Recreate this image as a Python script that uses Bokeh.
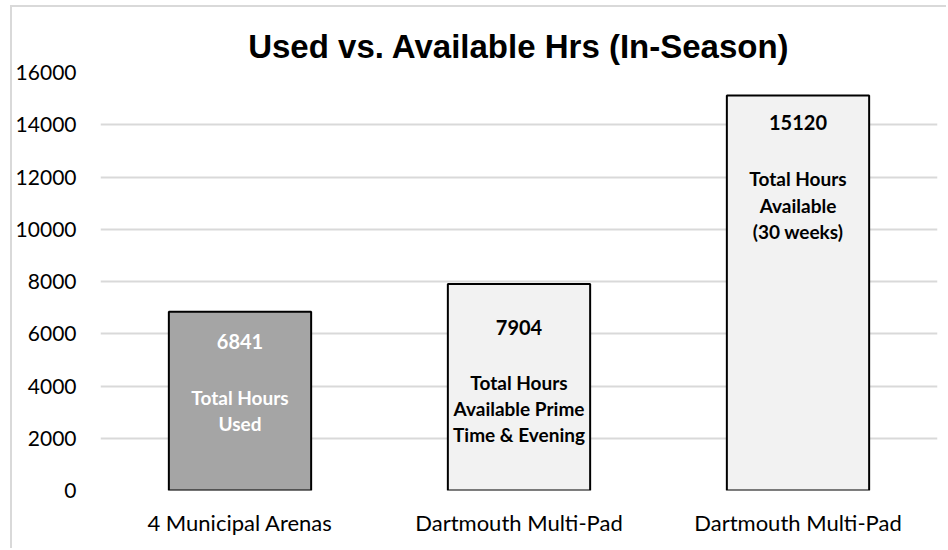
from bokeh.plotting import figure
from bokeh.models import Range1d, FixedTicker, ColumnDataSource
from bokeh.core.properties import value
from bokeh.embed import file_html
from bokeh.resources import INLINE

# ---- data ----
categories = ["4 Municipal Arenas", "Dartmouth Multi-Pad", "Dartmouth Multi-Pad"]
hours = [6841, 7904, 15120]
notes = ["Total Hours\nUsed", "Total Hours\nAvailable Prime\nTime & Evening", "Total Hours\nAvailable\n(30 weeks)"]
y_ticks = [0, 2000, 4000, 6000, 8000, 10000, 12000, 14000, 16000]
title_text = "Used vs. Available Hrs (In-Season)"

# ---- style ----
fills = ["#a5a5a5", "#f2f2f2", "#f2f2f2"]
label_colors = ["#ffffff", "#000000", "#000000"]
value_offsets = [30, 43, 27]     # px below bar top
note_offsets = [74, 87, 72]      # px below bar top (top of note block)

idx = list(range(len(categories)))
src = ColumnDataSource(dict(
    x=idx, top=hours, fill=fills, lc=label_colors,
    vlab=[str(h) for h in hours], note=notes,
    voff=value_offsets, noff=note_offsets,
))

p = figure(width=936, height=543, output_backend="svg", toolbar_location=None,
           x_range=Range1d(-0.5, len(categories) - 0.5), y_range=Range1d(0, 16000),
           min_border_left=85, min_border_right=11, min_border_top=65, min_border_bottom=60)
p.margin = (7, 0, 0, 12)
p.background_fill_color = "white"
p.border_fill_color = "white"
p.outline_line_color = None
# chart-area border on the left and top edges, drawn outside the figure box
p.styles = {"box-shadow": "-2px -2px 0 0 #d9d9d9"}

p.title.text = title_text
p.title.text_font = "Liberation Sans"
p.title.text_font_size = "33px"
p.title.text_font_style = "bold"
p.title.align = "center"
p.title.text_color = "#000000"
p.title.standoff = 15

p.vbar(x="x", top="top", width=0.51, bottom=0, source=src,
       fill_color="fill", line_color="#000000", line_width=2)

p.text(x="x", y="top", text="vlab", source=src, y_offset="voff",
       text_font=value("Lato"), text_font_style="bold", text_font_size="20px",
       text_color="lc", text_align="center", text_baseline="middle")
p.text(x="x", y="top", text="note", source=src, y_offset="noff",
       text_font=value("Lato"), text_font_style="bold", text_font_size="19px",
       text_color="lc", text_align="center", text_baseline="top", text_line_height=1.14)

# axes
p.yaxis.ticker = FixedTicker(ticks=y_ticks)
p.yaxis.axis_line_color = None
p.yaxis.major_tick_line_color = None
p.yaxis.minor_tick_line_color = None
p.yaxis.major_tick_out = 0
p.yaxis.major_tick_in = 0
p.yaxis.major_label_text_font = "Lato"
p.yaxis.major_label_text_font_size = "21px"
p.yaxis.major_label_text_color = "#000000"
p.yaxis.major_label_standoff = 24

p.xaxis.ticker = FixedTicker(ticks=idx)
p.xaxis.major_label_overrides = {i: c for i, c in zip(idx, categories)}
p.xaxis.axis_line_color = None
p.xaxis.major_tick_line_color = None
p.xaxis.minor_tick_line_color = None
p.xaxis.major_tick_out = 0
p.xaxis.major_tick_in = 0
p.xaxis.major_label_text_font = "Lato"
p.xaxis.major_label_text_font_size = "22px"
p.xaxis.major_label_text_color = "#000000"
p.xaxis.major_label_standoff = 18

p.xgrid.grid_line_color = None
p.ygrid.ticker = FixedTicker(ticks=y_ticks)
p.ygrid.grid_line_color = "#d9d9d9"
p.ygrid.grid_line_width = 2

open("out.html", "w").write(file_html(p, INLINE))
